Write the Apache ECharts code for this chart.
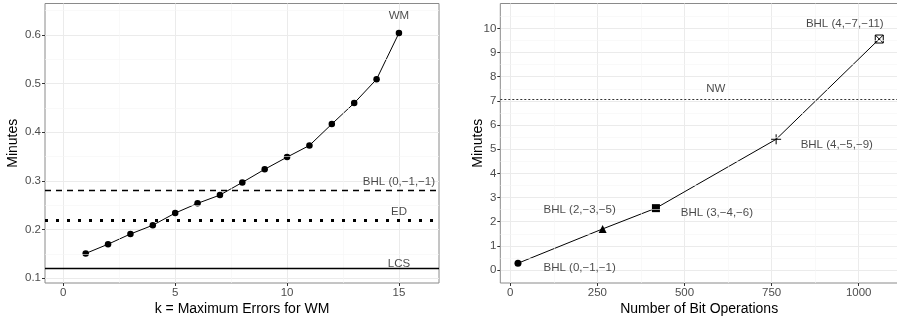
<!DOCTYPE html>
<html>
<head>
<meta charset="utf-8">
<script src="https://cdn.jsdelivr.net/npm/echarts@6/dist/echarts.min.js"></script>
<style>
  html, body { margin: 0; padding: 0; background: #fff; }
  #chart { width: 897px; height: 320px; }
</style>
</head>
<body>
<div id="chart"></div>
<script>
// left panel: WM runtime vs k, plus reference methods
const wmK = [1, 2, 3, 4, 5, 6, 7, 8, 9, 10, 11, 12, 13, 14, 15]
const wmMinutes = [0.151, 0.170, 0.191, 0.209, 0.234, 0.254, 0.271, 0.297, 0.324, 0.349, 0.373, 0.417, 0.460, 0.509, 0.604]
const refNames = ['BHL (0,\u22121,\u22121)', 'ED', 'LCS']
const refMinutes = [0.284, 0.222, 0.117]
const leftLabelX = [15, 15, 15, 15]
const leftLabelY = [0.639, 0.298, 0.237, 0.129]
const leftLabelText = ['WM', 'BHL (0,\u22121,\u22121)', 'ED', 'LCS']
const leftXTicks = [0, 5, 10, 15]
const leftYTicks = [0.1, 0.2, 0.3, 0.4, 0.5, 0.6]
const leftXMinor = [2.5, 7.5, 12.5]
const leftYMinor = [0.15, 0.25, 0.35, 0.45, 0.55, 0.65]

// right panel: BHL variants by bit operations
const bhlOps = [22, 265, 418, 763, 1059]
const bhlMinutes = [0.28, 1.70, 2.56, 5.41, 9.56]
const nwMinutes = 7.06
const rightLabelX = [960, 590, 937, 199, 593, 199]
const rightLabelY = [10.18, 7.49, 5.17, 2.48, 2.35, 0.11]
const rightLabelText = ['BHL (4,\u22127,\u221211)', 'NW', 'BHL (4,\u22125,\u22129)', 'BHL (2,\u22123,\u22125)', 'BHL (3,\u22124,\u22126)', 'BHL (0,\u22121,\u22121)']
const rightXTicks = [0, 250, 500, 750, 1000]
const rightYTicks = [0, 1, 2, 3, 4, 5, 6, 7, 8, 9, 10]
const rightXMinor = [125, 375, 625, 875]
const rightYMinor = [0.5, 1.5, 2.5, 3.5, 4.5, 5.5, 6.5, 7.5, 8.5, 9.5, 10.5]

const FONT = '"Liberation Sans", Arial, sans-serif'
const BORDER = '#8a8a8a'
const MAJOR = '#ebebeb'
const MINOR = '#f5f5f5'

const bhlSymbols = [
  'circle',
  'triangle',
  'rect',
  'path://M0,5L10,5M5,0L5,10',
  'path://M0,0L10,0L10,10L0,10ZM0,0L10,10M10,0L0,10',
]
const bhlSizes = [7, 8, 8, 10, 8]
const strokeOnly = [false, false, false, true, true]

function axisBase(ticks, min, max, name, gap, extra) {
  return Object.assign({
    type: 'value',
    min, max,
    name,
    nameLocation: 'middle',
    nameGap: gap,
    nameMoveOverlap: false,
    nameTextStyle: { color: '#000', fontSize: 14, fontFamily: FONT },
    axisLine: { show: false, onZero: false },
    axisTick: { show: true, length: 3, lineStyle: { color: '#333' }, customValues: ticks },
    axisLabel: {
      color: '#4d4d4d', fontSize: 11.5, fontFamily: FONT, margin: 4,
      customValues: ticks, formatter: v => String(v),
    },
    splitLine: { show: true, lineStyle: { color: MAJOR, width: 1 } },
  }, extra || {})
}

function minorLines(xs, ys) {
  return [
    ...xs.map(v => ({ xAxis: v })),
    ...ys.map(v => ({ yAxis: v })),
  ]
}

function labelSeries(xIdx, xs, ys, texts) {
  return {
    type: 'scatter',
    xAxisIndex: xIdx, yAxisIndex: xIdx,
    symbolSize: 0,
    silent: true,
    z: 5,
    data: xs.map((x, i) => ({ value: [x, ys[i]], name: texts[i] })),
    label: {
      show: true, position: 'inside',
      formatter: p => p.name,
      color: '#1a1a1a', fontSize: 11.5, fontFamily: FONT,
    },
  }
}

const refStyles = [
  { type: [6, 5], width: 1.4, color: '#000' },
  { type: [3, 8], width: 3, color: '#000' },
  { type: 'solid', width: 1.4, color: '#000' },
]

const gridBase = { show: true, borderColor: BORDER, borderWidth: 1, backgroundColor: 'transparent', containLabel: false, outerBoundsMode: 'none' }

const chart = echarts.init(document.getElementById('chart'), null, { renderer: 'canvas' })
chart.setOption({
  animation: false,
  backgroundColor: '#fff',
  grid: [
    Object.assign({ left: 45, top: 3.5, width: 394, height: 279.5 }, gridBase),
    Object.assign({ left: 500.3, top: 3.5, right: -1, height: 279.5 }, gridBase),
  ],
  xAxis: [
    axisBase(leftXTicks, -0.818, 16.79, 'k = Maximum Errors for WM', 19, { gridIndex: 0 }),
    axisBase(rightXTicks, -28.7, 1112.8, 'Number of Bit Operations', 19, { gridIndex: 1 }),
  ],
  yAxis: [
    axisBase(leftYTicks, 0.0903, 0.6647, 'Minutes', 25, { gridIndex: 0 }),
    axisBase(rightYTicks, -0.538, 11.03, 'Minutes', 15, { gridIndex: 1 }),
  ],
  series: [
    // minor grid, left
    {
      type: 'line', xAxisIndex: 0, yAxisIndex: 0, data: [], z: 0, silent: true,
      markLine: {
        silent: true, symbol: 'none', label: { show: false },
        lineStyle: { color: MINOR, width: 0.6, type: 'solid' },
        data: minorLines(leftXMinor, leftYMinor),
      },
    },
    // reference methods as horizontal lines
    {
      type: 'line', xAxisIndex: 0, yAxisIndex: 0, data: [], z: 3, silent: true,
      markLine: {
        silent: true, symbol: 'none', label: { show: false },
        data: refMinutes.map((v, i) => ({ yAxis: v, name: refNames[i], lineStyle: refStyles[i] })),
      },
    },
    {
      type: 'line', xAxisIndex: 0, yAxisIndex: 0, z: 4,
      data: wmK.map((k, i) => [k, wmMinutes[i]]),
      symbol: 'circle', symbolSize: 6.5,
      itemStyle: { color: '#000' },
      lineStyle: { color: '#000', width: 1 },
    },
    labelSeries(0, leftLabelX, leftLabelY, leftLabelText),
    // minor grid, right
    {
      type: 'line', xAxisIndex: 1, yAxisIndex: 1, data: [], z: 0, silent: true,
      markLine: {
        silent: true, symbol: 'none', label: { show: false },
        lineStyle: { color: MINOR, width: 0.6, type: 'solid' },
        data: minorLines(rightXMinor, rightYMinor),
      },
    },
    {
      type: 'line', xAxisIndex: 1, yAxisIndex: 1, data: [], z: 3, silent: true,
      markLine: {
        silent: true, symbol: 'none', label: { show: false },
        lineStyle: { type: [2, 2], width: 1, color: '#333' },
        data: [{ yAxis: nwMinutes, name: 'NW' }],
      },
    },
    {
      type: 'line', xAxisIndex: 1, yAxisIndex: 1, z: 4,
      data: bhlOps.map((x, i) => ({
        value: [x, bhlMinutes[i]],
        symbol: bhlSymbols[i],
        symbolSize: bhlSizes[i],
        itemStyle: strokeOnly[i]
          ? { color: 'rgba(0,0,0,0)', borderColor: '#000', borderWidth: 1 }
          : { color: '#000' },
      })),
      lineStyle: { color: '#000', width: 1 },
    },
    labelSeries(1, rightLabelX, rightLabelY, rightLabelText),
  ],
})
</script>
</body>
</html>
